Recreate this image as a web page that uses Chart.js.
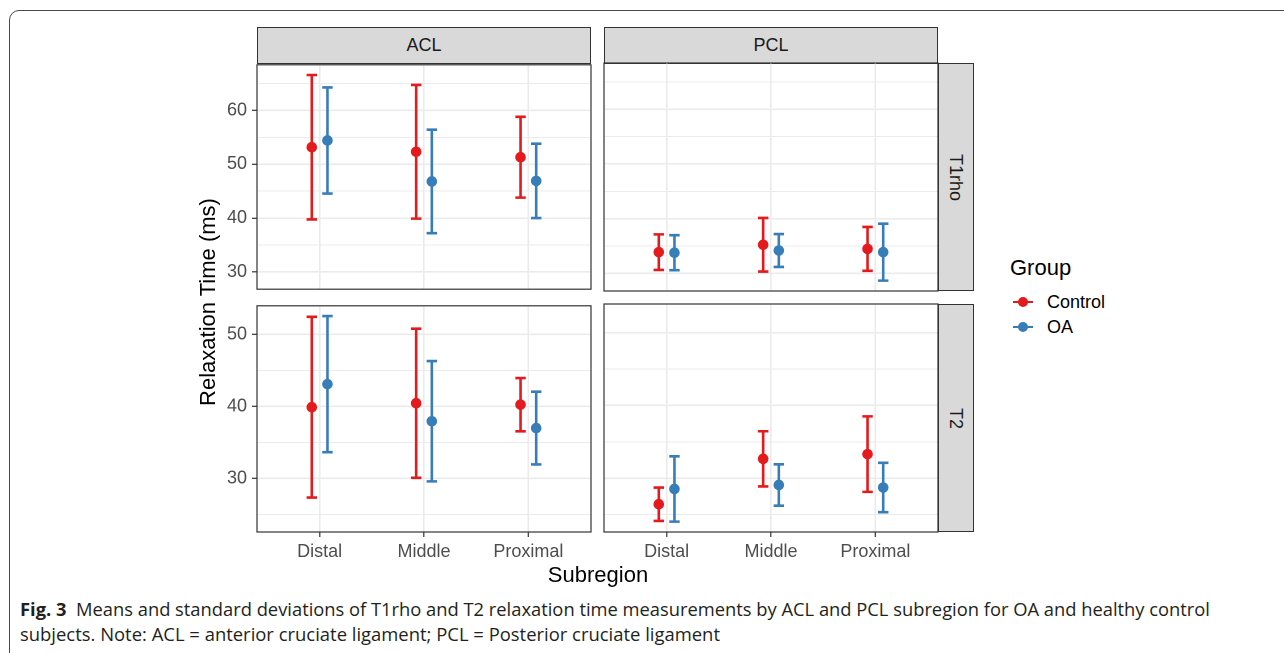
<!DOCTYPE html>
<html><head><meta charset="utf-8">
<script src="https://cdn.jsdelivr.net/npm/chart.js@4.4.1/dist/chart.umd.min.js"></script>
<style>
html,body{margin:0;padding:0;background:#fff;}
body{width:1284px;height:653px;overflow:hidden;position:relative;font-family:"Liberation Sans",Arial,sans-serif;}
.frame{position:absolute;left:9px;top:10px;width:1320px;height:720px;border:1.5px solid #4a4a4a;border-radius:10px;box-sizing:border-box;}
.strip{position:absolute;background:#d9d9d9;border:1.2px solid #333;box-sizing:border-box;display:flex;align-items:center;justify-content:center;font-size:18px;color:#1a1a1a;}
.vtext{transform:rotate(90deg);white-space:nowrap;}
canvas{position:absolute;}
.txt{position:absolute;white-space:nowrap;}
.cap{position:absolute;left:20px;white-space:nowrap;font-family:"Open Sans","Noto Sans",sans-serif;font-size:18px;line-height:18px;color:#231f20;transform-origin:0 0;}
.key{position:absolute;width:20px;height:2.6px;}
.dot{position:absolute;width:10.6px;height:10.6px;border-radius:50%;}
</style>
</head><body>
<div class="frame"></div>

<div class="strip" style="left:257px;top:27px;width:334px;height:36.5px;">ACL</div>
<div class="strip" style="left:604px;top:27px;width:334px;height:36.5px;">PCL</div>
<div class="strip" style="left:937.5px;top:63px;width:36.5px;height:228px;"><span class="vtext">T1rho</span></div>
<div class="strip" style="left:937.5px;top:304px;width:36.5px;height:228px;"><span class="vtext">T2</span></div>

<canvas id="c_acl_t1"></canvas>
<canvas id="c_pcl_t1"></canvas>
<canvas id="c_acl_t2"></canvas>
<canvas id="c_pcl_t2"></canvas>

<div class="txt" style="left:448px;top:564px;width:300px;text-align:center;font-size:22px;line-height:22px;color:#000;">Subregion</div>
<div class="txt" style="left:58px;top:289px;width:300px;height:26px;text-align:center;font-size:22px;line-height:26px;color:#000;transform:rotate(-90deg);">Relaxation Time (ms)</div>

<div class="txt" style="left:1010px;top:257px;font-size:22px;line-height:22px;color:#000;">Group</div>
<div class="key" style="left:1013px;top:300.7px;background:#E41A1C;"></div>
<div class="dot" style="left:1017.7px;top:296.7px;background:#E41A1C;"></div>
<div class="txt" style="left:1047px;top:293px;font-size:18px;line-height:18px;color:#000;">Control</div>
<div class="key" style="left:1013px;top:325.7px;background:#377EB8;"></div>
<div class="dot" style="left:1017.7px;top:321.7px;background:#377EB8;"></div>
<div class="txt" style="left:1047px;top:318px;font-size:18px;line-height:18px;color:#000;">OA</div>

<div class="cap" id="cap1" style="top:600px;"><b>Fig. 3</b>&nbsp;&nbsp;Means and standard deviations of T1rho and T2 relaxation time measurements by ACL and PCL subregion for OA and healthy control</div>
<div class="cap" id="cap2" style="top:625px;">subjects. Note: ACL = anterior cruciate ligament; PCL = Posterior cruciate ligament</div>

<script>
// ---------- DATA ----------
const categories = ['Distal', 'Middle', 'Proximal'];
const groups = ['Control', 'OA'];

// ACL, T1rho
const aclT1rhoControlMean = [53.15, 52.3, 51.3];
const aclT1rhoControlSD   = [13.4, 12.4, 7.5];
const aclT1rhoOAMean      = [54.4, 46.8, 46.9];
const aclT1rhoOASD        = [9.85, 9.6, 6.9];
// PCL, T1rho
const pclT1rhoControlMean = [33.9, 35.25, 34.5];
const pclT1rhoControlSD   = [3.25, 4.9, 4.0];
const pclT1rhoOAMean      = [33.8, 34.2, 33.9];
const pclT1rhoOASD        = [3.2, 3.0, 5.2];
// ACL, T2
const aclT2ControlMean = [39.9, 40.45, 40.25];
const aclT2ControlSD   = [12.55, 10.35, 3.7];
const aclT2OAMean      = [43.1, 37.95, 37.0];
const aclT2OASD        = [9.45, 8.35, 5.05];
// PCL, T2
const pclT2ControlMean = [26.4, 32.65, 33.3];
const pclT2ControlSD   = [2.3, 3.8, 5.2];
const pclT2OAMean      = [28.5, 29.05, 28.7];
const pclT2OASD        = [4.5, 2.85, 3.4];

// tick labels
const t1rhoTicks = [30, 40, 50, 60];
const t2Ticks = [30, 40, 50];

// ---------- STYLE ----------
const COLORS = {Control: '#E41A1C', OA: '#377EB8'};
const DODGE = 0.075, CAP = 0.05;
const FONT = '"Liberation Sans", Arial, sans-serif';
const P = 14;

function rangeOf(list) {
  let lo = Infinity, hi = -Infinity;
  list.forEach(([m, s]) => m.forEach((v, i) => { lo = Math.min(lo, v - s[i]); hi = Math.max(hi, v + s[i]); }));
  const e = (hi - lo) * 0.05;
  return [lo - e, hi + e];
}
const t1rhoRange = rangeOf([[aclT1rhoControlMean, aclT1rhoControlSD], [aclT1rhoOAMean, aclT1rhoOASD], [pclT1rhoControlMean, pclT1rhoControlSD], [pclT1rhoOAMean, pclT1rhoOASD]]);
const t2Range = rangeOf([[aclT2ControlMean, aclT2ControlSD], [aclT2OAMean, aclT2OASD], [pclT2ControlMean, pclT2ControlSD], [pclT2OAMean, pclT2OASD]]);

function gridValues(major, range) {
  const out = [];
  const step = major[1] - major[0];
  for (let v = major[0] - step; v <= major[major.length - 1] + step; v += step / 2) {
    if (v >= range[0] && v <= range[1]) out.push(v);
  }
  return out;
}

const panelPlugin = {
  id: 'panelDecor',
  beforeDatasetsDraw(chart) {
    const {ctx, scales: {x, y}} = chart;
    chart.data.datasets.forEach(ds => {
      ctx.save();
      ctx.strokeStyle = ds.borderColor;
      ctx.lineWidth = 2.6;
      ds.data.forEach(p => {
        const px = x.getPixelForValue(p.x);
        const lo = y.getPixelForValue(p.lo), hi = y.getPixelForValue(p.hi);
        const cl = x.getPixelForValue(p.x - CAP), cr = x.getPixelForValue(p.x + CAP);
        ctx.beginPath();
        ctx.moveTo(px, lo); ctx.lineTo(px, hi);
        ctx.moveTo(cl, lo); ctx.lineTo(cr, lo);
        ctx.moveTo(cl, hi); ctx.lineTo(cr, hi);
        ctx.stroke();
      });
      ctx.restore();
    });
  },
  afterDraw(chart) {
    const {ctx, chartArea: a} = chart;
    ctx.save();
    ctx.strokeStyle = '#333';
    ctx.lineWidth = 1.2;
    ctx.strokeRect(a.left, a.top, a.right - a.left, a.bottom - a.top);
    ctx.restore();
  }
};

function makePanel(id, x0, y0, w, h, showX, showY, ctrlMean, ctrlSD, oaMean, oaSD, ticks, range) {
  const yW = showY ? 50 : 0, xH = showX ? 40 : 0;
  const cv = document.getElementById(id);
  const W = w + yW + 2 * P, H = h + xH + 2 * P;
  cv.style.left = (x0 - yW - P) + 'px';
  cv.style.top = (y0 - P) + 'px';
  cv.width = W; cv.height = H;
  const mk = (means, sds, off) => means.map((m, i) => ({x: i + 1 + off, y: m, lo: m - sds[i], hi: m + sds[i]}));
  const grid = gridValues(ticks, range);
  const isMajor = v => ticks.some(t => Math.abs(t - v) < 1e-6);
  new Chart(cv, {
    type: 'scatter',
    data: {
      datasets: [
        {label: groups[0], data: mk(ctrlMean, ctrlSD, -DODGE), borderColor: COLORS.Control, backgroundColor: COLORS.Control, pointRadius: 5.3, pointBorderWidth: 0, pointHoverRadius: 5.3},
        {label: groups[1], data: mk(oaMean, oaSD, DODGE), borderColor: COLORS.OA, backgroundColor: COLORS.OA, pointRadius: 5.3, pointBorderWidth: 0, pointHoverRadius: 5.3}
      ]
    },
    options: {
      responsive: false, animation: false, events: [], devicePixelRatio: 2,
      layout: {padding: {left: P, right: P, top: P, bottom: P}},
      plugins: {legend: {display: false}, tooltip: {enabled: false}},
      scales: {
        x: {
          type: 'linear', min: 0.4, max: 3.6,
          afterBuildTicks(s) { s.ticks = categories.map((c, i) => ({value: i + 1})); },
          afterFit(s) { s.height = xH; },
          border: {display: false},
          grid: {color: '#ebebeb', lineWidth: 1.6, drawTicks: showX, tickLength: 5, tickColor: '#333', tickWidth: 1.2},
          ticks: {display: showX, autoSkip: false, maxRotation: 0, padding: 4, color: '#4d4d4d', font: {size: 18, family: FONT},
                  callback: v => categories[Math.round(v) - 1]}
        },
        y: {
          type: 'linear', min: range[0], max: range[1],
          afterBuildTicks(s) { s.ticks = grid.map(v => ({value: v})); },
          afterFit(s) { s.width = yW; },
          border: {display: false},
          grid: {color: '#ebebeb', lineWidth: c => (c.tick && isMajor(c.tick.value)) ? 1.6 : 0.9,
                 drawTicks: showY, tickLength: 5, tickWidth: 1.2,
                 tickColor: c => (c.tick && isMajor(c.tick.value)) ? '#333' : 'rgba(0,0,0,0)'},
          ticks: {display: showY, autoSkip: false, padding: 5, color: '#4d4d4d', font: {size: 18, family: FONT},
                  callback: v => isMajor(v) ? String(v) : ''}
        }
      }
    },
    plugins: [panelPlugin]
  });
}

makePanel('c_acl_t1', 257, 63, 334, 228, false, true, aclT1rhoControlMean, aclT1rhoControlSD, aclT1rhoOAMean, aclT1rhoOASD, t1rhoTicks, t1rhoRange);
makePanel('c_pcl_t1', 604, 63, 334, 228, false, false, pclT1rhoControlMean, pclT1rhoControlSD, pclT1rhoOAMean, pclT1rhoOASD, t1rhoTicks, t1rhoRange);
makePanel('c_acl_t2', 257, 304, 334, 228, true, true, aclT2ControlMean, aclT2ControlSD, aclT2OAMean, aclT2OASD, t2Ticks, t2Range);
makePanel('c_pcl_t2', 604, 304, 334, 228, true, false, pclT2ControlMean, pclT2ControlSD, pclT2OAMean, pclT2OASD, t2Ticks, t2Range);

function fitCaption(id, target) {
  const el = document.getElementById(id);
  const w = el.getBoundingClientRect().width;
  if (w > 0) el.style.transform = 'scaleX(' + (target / w) + ')';
}
fitCaption('cap1', 1190);
fitCaption('cap2', 700);
</script>
</body></html>
